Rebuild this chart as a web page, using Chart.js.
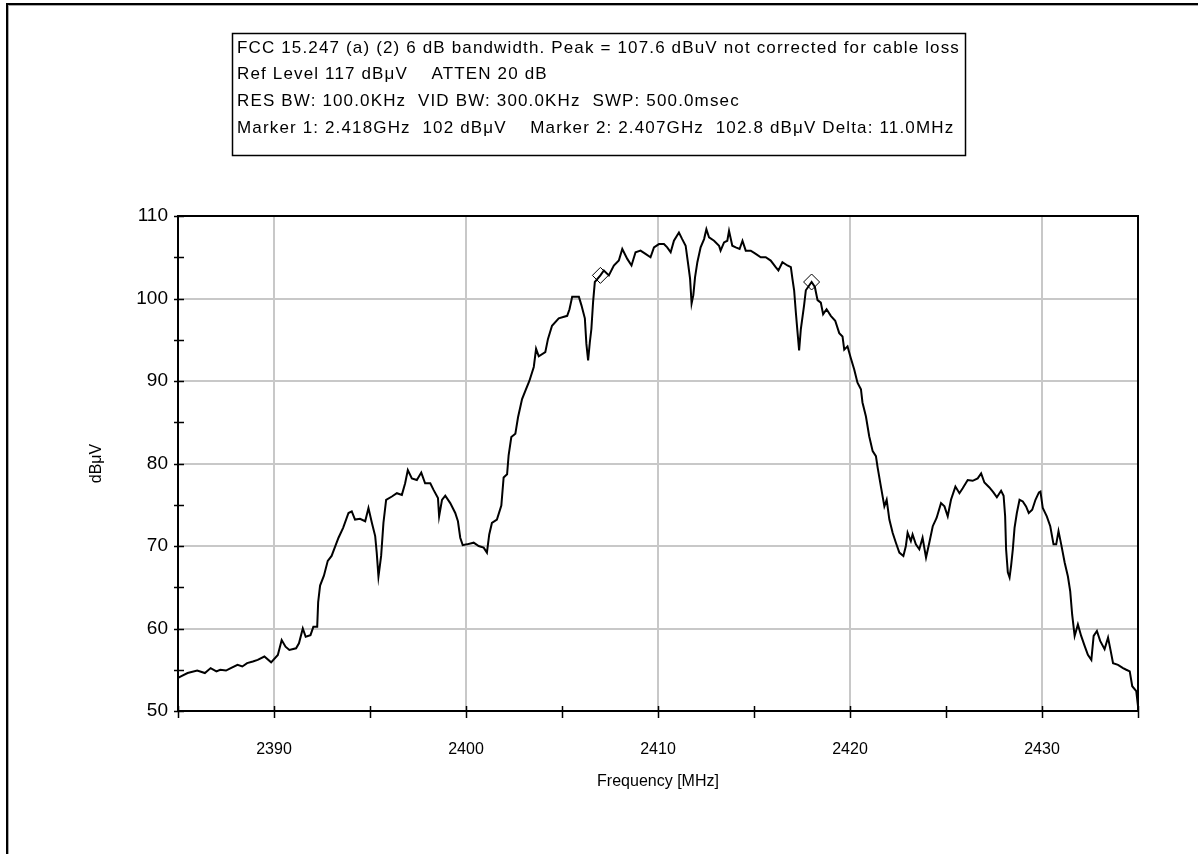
<!doctype html>
<html>

<head>
    <meta charset="utf-8" />
    <title>6 dB bandwidth</title>
    <style>
        html,
        body {
            margin: 0px;
            padding: 0px;
            background-color: #ffffff;
        }

        .wrap {
            width: 1198px;
            height: 854px;
        }
    </style>
</head>

<body>
    <div class="wrap">
        <canvas id="chart_trace" width="1198" height="854"></canvas>
    </div>

    <script src="https://cdn.jsdelivr.net/npm/chart.js@4.4.1/dist/chart.umd.min.js"></script>

    <script>
        // analyzer trace, frequency in MHz and level in dBuV
        var freqMHz = [
            2385.0, 2385.15, 2385.5, 2386.0, 2386.4, 2386.7, 2387.0, 2387.2, 2387.5, 2387.75,
            2388.1, 2388.35, 2388.6, 2388.9, 2389.15, 2389.5, 2389.85, 2390.2, 2390.4, 2390.6,
            2390.8, 2391.15, 2391.3, 2391.5, 2391.65, 2391.9, 2392.05, 2392.25, 2392.3, 2392.4,
            2392.6, 2392.8, 2393.0, 2393.36, 2393.6, 2393.88, 2394.05, 2394.22, 2394.48, 2394.75,
            2394.92, 2395.1, 2395.27, 2395.35, 2395.44, 2395.58, 2395.7, 2395.84, 2396.14, 2396.4,
            2396.66, 2396.83, 2396.97, 2397.18, 2397.44, 2397.67, 2397.87, 2398.14, 2398.31, 2398.54,
            2398.6, 2398.75, 2398.92, 2399.18, 2399.44, 2399.58, 2399.7, 2399.83, 2400.05, 2400.4,
            2400.66, 2400.92, 2401.09, 2401.21, 2401.35, 2401.61, 2401.84, 2401.96, 2402.14, 2402.22,
            2402.36, 2402.57, 2402.71, 2402.92, 2403.09, 2403.3, 2403.53, 2403.65, 2403.79, 2404.13,
            2404.27, 2404.48, 2404.83, 2405.27, 2405.39, 2405.53, 2405.88, 2406.01, 2406.19, 2406.27,
            2406.36, 2406.45, 2406.53, 2406.62, 2406.71, 2407.0, 2407.18, 2407.44, 2407.7, 2407.96,
            2408.14, 2408.4, 2408.62, 2408.83, 2409.09, 2409.35, 2409.61, 2409.79, 2410.05, 2410.31,
            2410.48, 2410.66, 2410.83, 2411.09, 2411.26, 2411.44, 2411.58, 2411.67, 2411.75, 2411.84,
            2411.93, 2412.05, 2412.22, 2412.4, 2412.52, 2412.66, 2412.92, 2413.18, 2413.26, 2413.44,
            2413.61, 2413.7, 2413.87, 2414.05, 2414.25, 2414.4, 2414.57, 2414.83, 2415.09, 2415.35,
            2415.61, 2415.87, 2416.13, 2416.27, 2416.48, 2416.74, 2416.92, 2417.0, 2417.09, 2417.18,
            2417.26, 2417.35, 2417.44, 2417.61, 2417.7, 2418.0, 2418.17, 2418.31, 2418.48, 2418.6,
            2418.78, 2419.0, 2419.23, 2419.44, 2419.61, 2419.7, 2419.87, 2420.04, 2420.22, 2420.39,
            2420.57, 2420.65, 2420.83, 2421.0, 2421.18, 2421.35, 2421.44, 2421.61, 2421.79, 2421.91,
            2422.05, 2422.22, 2422.39, 2422.57, 2422.78, 2422.91, 2423.0, 2423.17, 2423.26, 2423.43,
            2423.61, 2423.78, 2423.96, 2424.13, 2424.31, 2424.51, 2424.74, 2424.92, 2425.09, 2425.26,
            2425.49, 2425.7, 2425.87, 2426.13, 2426.39, 2426.65, 2426.83, 2427.0, 2427.26, 2427.47,
            2427.65, 2427.87, 2428.0, 2428.08, 2428.13, 2428.22, 2428.31, 2428.39, 2428.48, 2428.57,
            2428.69, 2428.83, 2429.0, 2429.17, 2429.31, 2429.49, 2429.66, 2429.84, 2429.92, 2430.04,
            2430.25, 2430.43, 2430.6, 2430.74, 2430.86, 2431.0, 2431.18, 2431.35, 2431.47, 2431.57,
            2431.7, 2431.87, 2432.04, 2432.22, 2432.39, 2432.57, 2432.69, 2432.86, 2433.03, 2433.26,
            2433.44, 2433.56, 2433.7, 2433.96, 2434.22, 2434.39, 2434.57, 2434.7, 2434.91, 2435.0
        ];
        var levelDbuv = [
            54.0, 54.2, 54.6, 54.9, 54.6, 55.2, 54.8, 55.0, 54.9, 55.2,
            55.6, 55.4, 55.8, 56.0, 56.2, 56.6, 55.9, 56.8, 58.6, 57.8,
            57.4, 57.6, 58.2, 60.0, 59.0, 59.2, 60.2, 60.2, 63.2, 65.2,
            66.4, 68.2, 68.8, 71.0, 72.2, 74.0, 74.2, 73.2, 73.3, 73.0,
            74.6, 72.8, 71.2, 69.2, 66.3, 68.8, 72.8, 75.6, 76.0, 76.4,
            76.2, 77.6, 79.2, 78.2, 78.0, 78.9, 77.6, 77.6, 76.8, 75.8,
            73.6, 75.6, 76.1, 75.2, 74.0, 73.0, 71.0, 70.1, 70.2, 70.4,
            70.0, 69.8, 69.2, 71.4, 72.8, 73.2, 74.9, 78.3, 78.7, 81.0,
            83.2, 83.6, 85.6, 87.8, 88.8, 90.0, 91.7, 93.9, 93.0, 93.5,
            95.1, 96.7, 97.6, 97.9, 98.7, 100.2, 100.2, 99.2, 97.6, 94.5,
            92.5, 94.7, 96.3, 99.6, 102.0, 102.8, 103.4, 102.8, 104.0, 104.6,
            106.0, 104.8, 104.0, 105.6, 105.8, 105.4, 105.0, 106.2, 106.6, 106.6,
            106.2, 105.6, 107.0, 108.0, 107.2, 106.4, 104.0, 102.4, 99.4, 100.4,
            102.6, 104.4, 106.2, 107.2, 108.4, 107.4, 107.0, 106.4, 105.8, 106.8,
            107.0, 108.2, 106.4, 106.2, 106.0, 107.0, 105.8, 105.8, 105.4, 105.0,
            105.0, 104.6, 103.8, 103.4, 104.4, 104.0, 103.8, 102.4, 101.0, 98.3,
            96.1, 93.7, 96.3, 99.2, 101.0, 102.0, 101.4, 99.8, 99.5, 98.1,
            98.7, 97.9, 97.3, 95.8, 95.4, 93.8, 94.2, 92.8, 91.4, 89.8,
            89.0, 87.4, 85.7, 83.3, 81.5, 80.9, 79.5, 77.2, 74.8, 75.6,
            73.2, 71.6, 70.4, 69.2, 68.8, 70.0, 71.6, 70.6, 71.4, 70.2,
            69.6, 71.0, 68.6, 70.4, 72.4, 73.4, 75.2, 74.8, 73.6, 75.6,
            77.2, 76.4, 77.0, 78.0, 77.9, 78.2, 78.8, 77.7, 77.1, 76.5,
            75.9, 76.7, 76.1, 73.6, 69.6, 66.8, 66.2, 67.6, 69.6, 72.2,
            74.0, 75.6, 75.4, 74.8, 74.0, 74.4, 75.6, 76.5, 76.6, 74.6,
            73.6, 72.4, 70.2, 70.2, 71.8, 70.2, 68.0, 66.3, 64.5, 61.7,
            59.1, 60.5, 59.1, 57.9, 56.8, 56.2, 59.1, 59.7, 58.5, 57.5,
            58.9, 57.5, 55.8, 55.6, 55.2, 55.0, 54.8, 53.0, 52.4, 50.6
        ];

        // marker 1 and marker 2 readouts
        var markerFreq = [2418.0, 2407.0];
        var markerLevel = [102.0, 102.8];

        var headerLines = [
            "FCC 15.247 (a) (2) 6 dB bandwidth. Peak = 107.6 dBuV not corrected for cable loss",
            "Ref Level 117 dBμV    ATTEN 20 dB",
            "RES BW: 100.0KHz  VID BW: 300.0KHz  SWP: 500.0msec",
            "Marker 1: 2.418GHz  102 dBμV    Marker 2: 2.407GHz  102.8 dBμV Delta: 11.0MHz"
        ];

        var fontName = "'Liberation Sans', Arial, sans-serif";

        var decor = {
            id: 'decor',
            beforeDraw: function (chart) {
                var ctx = chart.ctx;
                ctx.save();
                ctx.fillStyle = '#ffffff';
                ctx.fillRect(0, 0, chart.width, chart.height);
                // outer window edge
                ctx.fillStyle = '#000000';
                ctx.fillRect(6, 3, chart.width - 6, 2);
                ctx.fillRect(6, 3, 2, chart.height - 3);
                ctx.fillStyle = '#a8a8a8';
                ctx.fillRect(8, 5, chart.width - 8, 1);
                ctx.fillRect(8, 5, 1, chart.height - 5);
                ctx.restore();
            },
            afterDraw: function (chart) {
                var ctx = chart.ctx;
                var a = chart.chartArea;
                var xs = chart.scales.x;
                var ys = chart.scales.y;
                ctx.save();

                // plot frame
                ctx.strokeStyle = '#000000';
                ctx.lineWidth = 2;
                ctx.strokeRect(a.left, a.top, a.right - a.left, a.bottom - a.top);

                // tick marks crossing the axes
                ctx.lineWidth = 1.5;
                ctx.beginPath();
                for (var v = 50; v <= 110; v += 5) {
                    var py = Math.round(ys.getPixelForValue(v)) + 0.5;
                    ctx.moveTo(a.left - 4, py);
                    ctx.lineTo(a.left + 6, py);
                }
                for (var f = 2385; f <= 2435; f += 5) {
                    var px = Math.round(xs.getPixelForValue(f)) + 0.5;
                    ctx.moveTo(px, a.bottom - 5);
                    ctx.lineTo(px, a.bottom + 7);
                }
                ctx.stroke();

                // settings box
                ctx.fillStyle = '#ffffff';
                ctx.fillRect(232, 33, 733, 122);
                ctx.strokeStyle = '#000000';
                ctx.lineWidth = 1.5;
                ctx.strokeRect(232.5, 33.5, 733, 122);
                ctx.fillStyle = '#000000';
                ctx.font = '17px ' + fontName;
                ctx.letterSpacing = '1.15px';
                ctx.textBaseline = 'middle';
                headerLines.forEach(function (line, i) {
                    ctx.fillText(line, 237, 48 + i * 26.7);
                });
                ctx.restore();
            }
        };

        var tenOnly = function (c) {
            return c.tick.value % 10 === 0 ? '#c8c8c8' : 'rgba(0,0,0,0)';
        };

        var chart = new Chart(document.getElementById('chart_trace').getContext('2d'), {
            type: 'scatter',
            data: {
                datasets: [
                    {
                        label: 'Markers',
                        data: markerFreq.map(function (f, i) { return { x: f, y: markerLevel[i] }; }),
                        pointStyle: 'rectRot',
                        pointRadius: 8,
                        pointBorderWidth: 1,
                        pointBorderColor: '#000000',
                        pointBackgroundColor: 'rgba(255,255,255,0)',
                        showLine: false
                    },
                    {
                        label: 'Trace',
                        data: freqMHz.map(function (f, i) { return { x: f, y: levelDbuv[i] }; }),
                        showLine: true,
                        borderColor: '#000000',
                        borderWidth: 2,
                        pointRadius: 0,
                        tension: 0
                    }
                ]
            },
            options: {
                responsive: false,
                animation: false,
                layout: {
                    padding: { left: 83, top: 216, right: 60, bottom: 59 }
                },
                plugins: {
                    legend: { display: false },
                    tooltip: { enabled: false }
                },
                scales: {
                    x: {
                        type: 'linear',
                        min: 2385,
                        max: 2435,
                        afterFit: function (s) { s.height = 84; },
                        border: { display: false },
                        grid: { color: tenOnly, lineWidth: 2, drawTicks: false },
                        ticks: {
                            stepSize: 5,
                            padding: 29,
                            color: '#000000',
                            font: { family: fontName, size: 16 },
                            maxRotation: 0,
                            autoSkip: false,
                            callback: function (v) { return v % 10 === 0 ? String(v) : ''; }
                        },
                        title: {
                            display: true,
                            text: 'Frequency [MHz]',
                            color: '#000000',
                            font: { family: fontName, size: 16 },
                            padding: 4
                        }
                    },
                    y: {
                        min: 50,
                        max: 110,
                        afterFit: function (s) { s.width = 95; },
                        border: { display: false },
                        grid: { color: tenOnly, lineWidth: 2, drawTicks: false },
                        ticks: {
                            stepSize: 5,
                            padding: 10,
                            color: '#000000',
                            font: { family: fontName, size: 19 },
                            autoSkip: false,
                            callback: function (v) { return v % 10 === 0 ? String(v) : ''; }
                        },
                        title: {
                            display: true,
                            text: 'dBμV',
                            color: '#000000',
                            font: { family: fontName, size: 16 },
                            padding: 4
                        }
                    }
                }
            },
            plugins: [decor]
        });
    </script>

</body>

</html>
